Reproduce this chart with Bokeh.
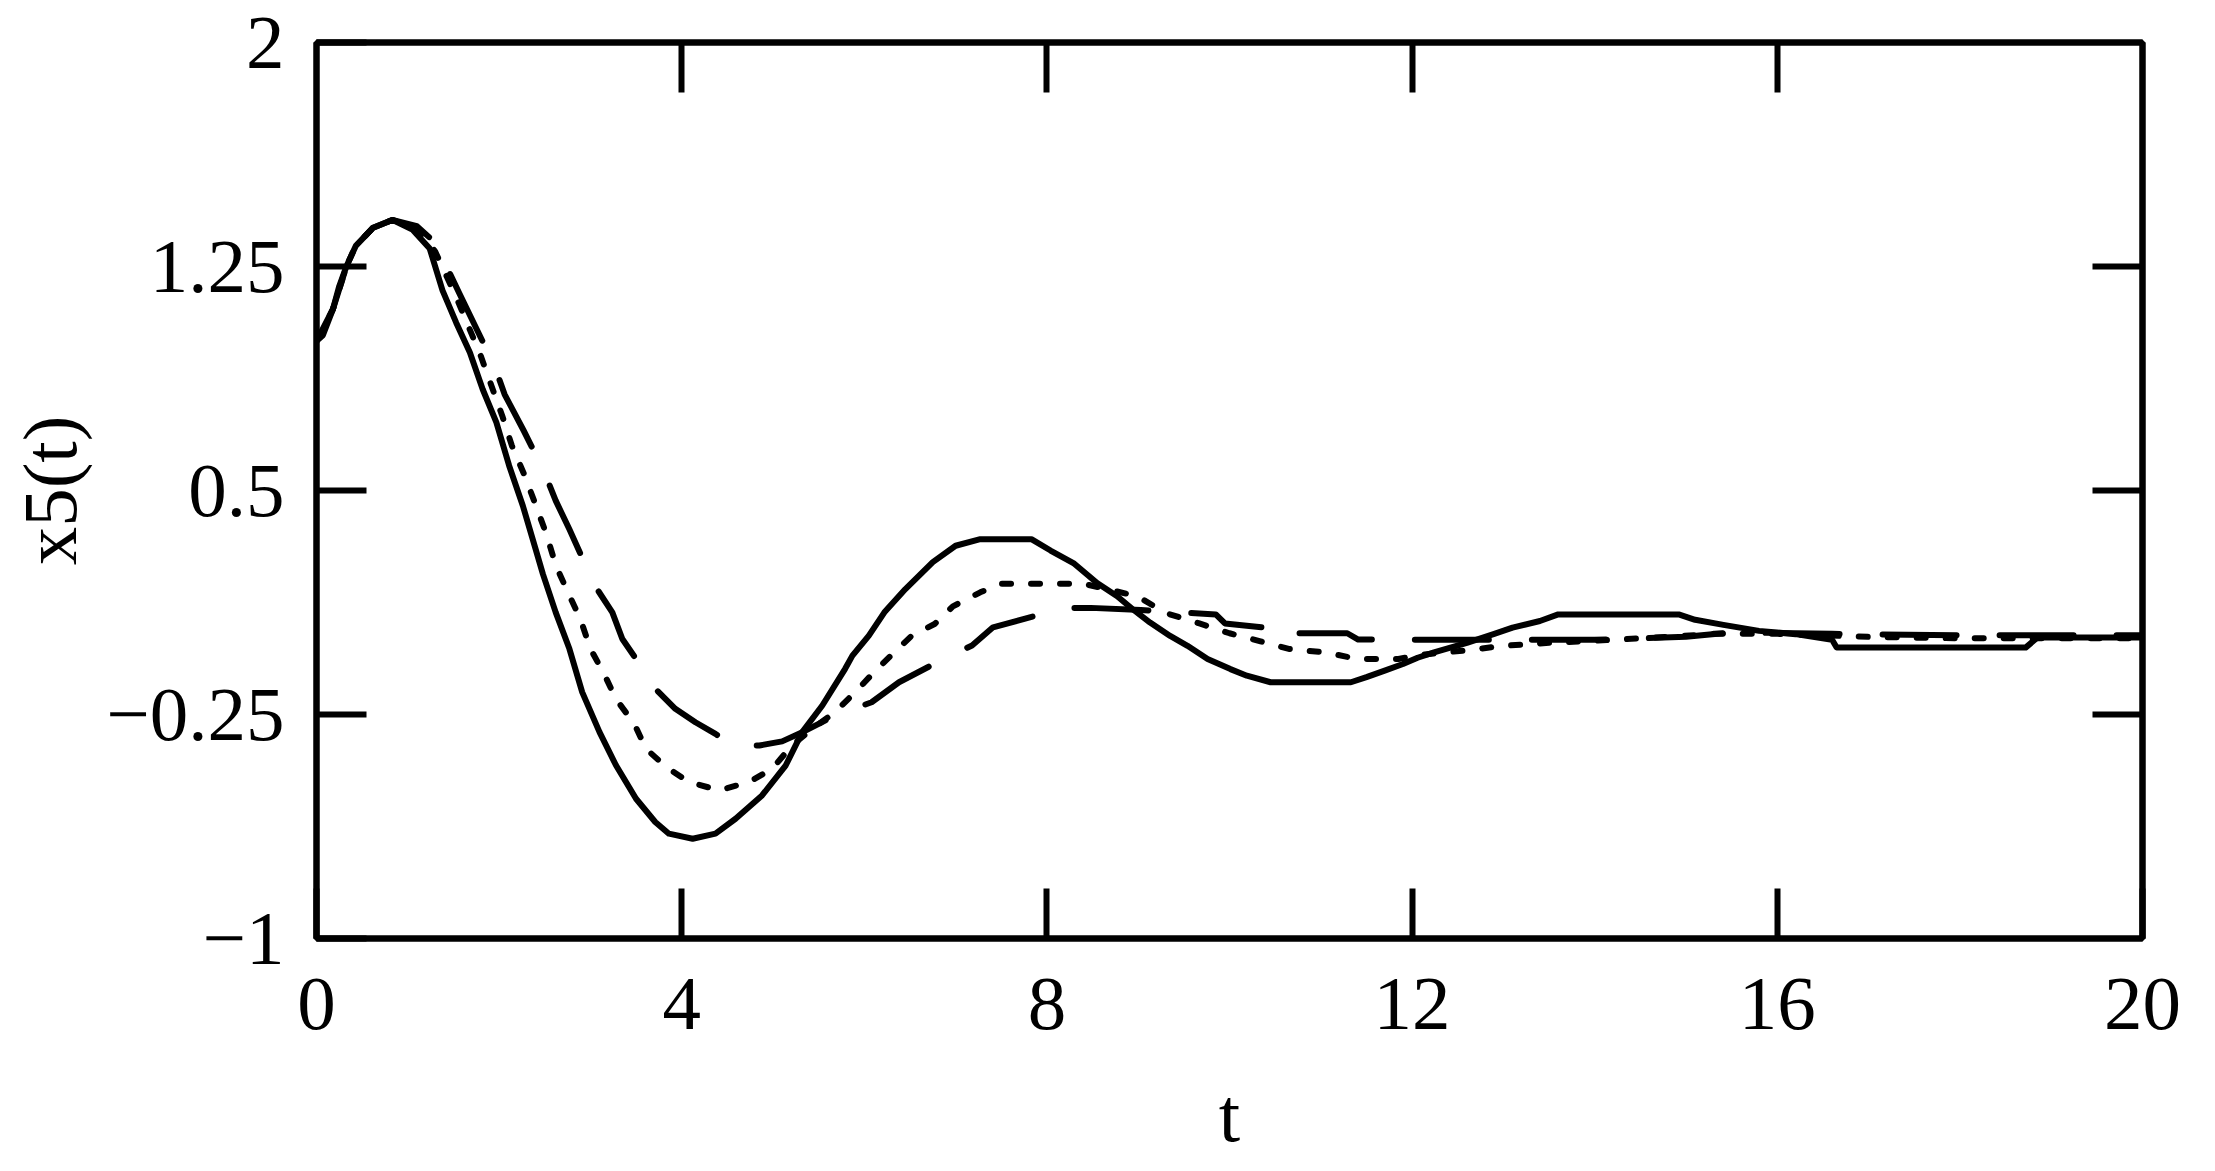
from bokeh.plotting import figure
from bokeh.models import LinearAxis, FixedTicker, Range1d
from bokeh.embed import file_html
from bokeh.resources import INLINE

# ---- data ----
t_solid = [0.0, 0.07, 0.18, 0.25, 0.33, 0.43, 0.62, 0.83, 1.05, 1.24, 1.38, 1.53, 1.68, 1.82,
           1.97, 2.11, 2.26, 2.40, 2.48, 2.62, 2.77, 2.91, 3.10, 3.28, 3.50, 3.71, 3.86, 4.12,
           4.37, 4.59, 4.88, 5.14, 5.32, 5.54, 5.79, 5.87, 6.05, 6.22, 6.45, 6.75, 7.0, 7.27,
           7.83, 8.04, 8.3, 8.55, 8.77, 8.95, 9.13, 9.35, 9.54, 9.76, 10.01, 10.19, 10.45,
           11.33, 11.5, 11.7, 11.9, 12.06, 12.24, 12.6, 12.9, 13.1, 13.4, 13.6, 14.92, 15.1,
           15.41, 15.8, 16.2, 16.6, 16.65, 18.72, 18.85, 20.0]
x5_solid = [1.00, 1.02, 1.107, 1.185, 1.252, 1.319, 1.38, 1.406, 1.374, 1.31, 1.17, 1.062, 0.962,
            0.839, 0.728, 0.583, 0.449, 0.304, 0.22, 0.092, -0.030, -0.175, -0.309, -0.42,
            -0.532, -0.61, -0.649, -0.666, -0.649, -0.599, -0.521, -0.42, -0.309, -0.22, -0.097,
            -0.053, 0.014, 0.092, 0.17, 0.26, 0.315, 0.337, 0.337, 0.299, 0.255, 0.19, 0.146,
            0.10, 0.058, 0.013, -0.02, -0.064, -0.098, -0.12, -0.142, -0.142, -0.125, -0.103,
            -0.081, -0.06, -0.042, -0.01, 0.02, 0.041, 0.063, 0.085, 0.085, 0.067, 0.05, 0.03,
            0.019, 0.0, -0.026, -0.026, 0.008, 0.008]

t_dot = [0.0, 0.18, 0.33, 0.43, 0.62, 0.83, 1.1, 1.3, 1.52, 1.8, 2.04, 2.14, 2.28, 2.40, 2.52,
         2.62, 2.77, 2.89, 3.00, 3.15, 3.28, 3.48, 3.61, 3.83, 4.08, 4.41, 4.74, 4.99, 5.21,
         5.43, 5.68, 5.90, 6.08, 6.29, 6.52, 6.77, 6.97, 7.27, 7.5, 8.4, 8.99, 9.3, 9.67, 10.0,
         10.34, 10.66, 11.05, 11.4, 11.85, 12.1, 12.6, 13.0, 13.5, 14.2, 14.8, 15.3, 16.0,
         17.0, 18.0, 19.0, 20.0]
x5_dot = [1.0, 1.107, 1.252, 1.319, 1.38, 1.406, 1.38, 1.30, 1.155, 0.95, 0.745, 0.65, 0.55,
          0.452, 0.352, 0.25, 0.148, 0.07, -0.03, -0.114, -0.198, -0.281, -0.365, -0.426,
          -0.476, -0.504, -0.476, -0.432, -0.353, -0.298, -0.242, -0.175, -0.117, -0.053,
          0.014, 0.053, 0.112, 0.159, 0.188, 0.188, 0.146, 0.09, 0.055, 0.022, -0.005, -0.031,
          -0.042, -0.064, -0.064, -0.05, -0.035, -0.02, -0.01, 0.0, 0.01, 0.02, 0.02, 0.01,
          0.005, 0.005, 0.005]

t_dash = [0.0, 0.18, 0.33, 0.43, 0.62, 0.83, 1.1, 1.3, 1.56, 1.95, 2.06, 2.27, 2.49, 2.62, 2.77,
          2.95, 3.0, 3.24, 3.35, 3.50, 3.64, 3.93, 4.15, 4.37, 4.55, 4.85, 5.1, 5.35, 5.68,
          6.08, 6.38, 6.8, 7.18, 7.41, 7.87, 8.22, 8.48, 9.03, 9.85, 9.95, 10.38, 10.74, 10.75,
          11.29, 11.41, 12.1, 13.0, 14.0, 15.0, 15.5, 16.6, 18.0, 20.0]
x5_dash = [1.0, 1.107, 1.252, 1.319, 1.38, 1.406, 1.385, 1.33, 1.163, 0.917, 0.822, 0.70, 0.566,
           0.466, 0.37, 0.248, 0.204, 0.092, 0.003, -0.064, -0.142, -0.231, -0.276, -0.315,
           -0.354, -0.354, -0.34, -0.305, -0.253, -0.209, -0.142, -0.075, -0.019, 0.042, 0.08,
           0.107, 0.107, 0.1, 0.085, 0.055, 0.041, 0.041, 0.022, 0.022, 0.001, 0.0, 0.0, 0.0,
           0.01, 0.025, 0.02, 0.015, 0.015]

x_ticks = [0, 4, 8, 12, 16, 20]
y_ticks = [-1, -0.25, 0.5, 1.25, 2]
y_tick_labels = {-1: "\u22121", -0.25: "\u22120.25", 0.5: "0.5", 1.25: "1.25", 2: "2"}
top_ticks = [4, 8, 12, 16]
right_ticks = [-0.25, 0.5, 1.25]

FONT = "Liberation Serif"
FS = "77px"

p = figure(frame_width=1826, frame_height=896,
           x_range=Range1d(0, 20), y_range=Range1d(-1, 2),
           output_backend="svg", toolbar_location=None)
p.min_border_left = 316
p.min_border_top = 42
p.min_border_right = 60
p.min_border_bottom = 20
p.xgrid.visible = False
p.ygrid.visible = False
p.outline_line_color = "black"
p.outline_line_width = 6
p.outline_line_alpha = 1.0
p.background_fill_color = "white"
p.border_fill_color = "white"

def style_axis(ax, ticks, show_labels=True):
    ax.ticker = FixedTicker(ticks=ticks)
    ax.axis_line_width = 6
    ax.axis_line_color = "black"
    ax.major_tick_in = 50
    ax.major_tick_out = 0
    ax.major_tick_line_width = 6
    ax.major_tick_line_color = "black"
    ax.minor_tick_line_color = None
    ax.major_label_text_font = FONT
    ax.major_label_text_font_size = FS
    ax.major_label_text_color = "black"
    if show_labels:
        ax.axis_label_text_font = FONT
        ax.axis_label_text_font_size = FS
        ax.axis_label_text_font_style = "normal"
        ax.axis_label_text_color = "black"
    else:
        ax.major_label_overrides = {tk: "" for tk in ticks}
        ax.major_label_standoff = 0

xa = p.xaxis[0]
style_axis(xa, x_ticks)
xa.axis_label = "t"
xa.major_label_standoff = 40
xa.axis_label_standoff = 40

ya = p.yaxis[0]
style_axis(ya, y_ticks)
ya.major_label_overrides = y_tick_labels
ya.axis_label = "x5(t)"
ya.major_label_standoff = 32
ya.axis_label_standoff = 10

top = LinearAxis()
style_axis(top, top_ticks, show_labels=False)
p.add_layout(top, "above")
right = LinearAxis()
style_axis(right, right_ticks, show_labels=False)
p.add_layout(right, "right")

p.line(t_solid, x5_solid, line_color="black", line_width=6, line_join="round", line_cap="round")
p.line(t_dot, x5_dot, line_color="black", line_width=6, line_join="round", line_cap="round",
       line_dash="9 20")
p.line(t_dash, x5_dash, line_color="black", line_width=6, line_join="round", line_cap="round",
       line_dash="74 43")

open("out.html", "w").write(file_html(p, INLINE))
